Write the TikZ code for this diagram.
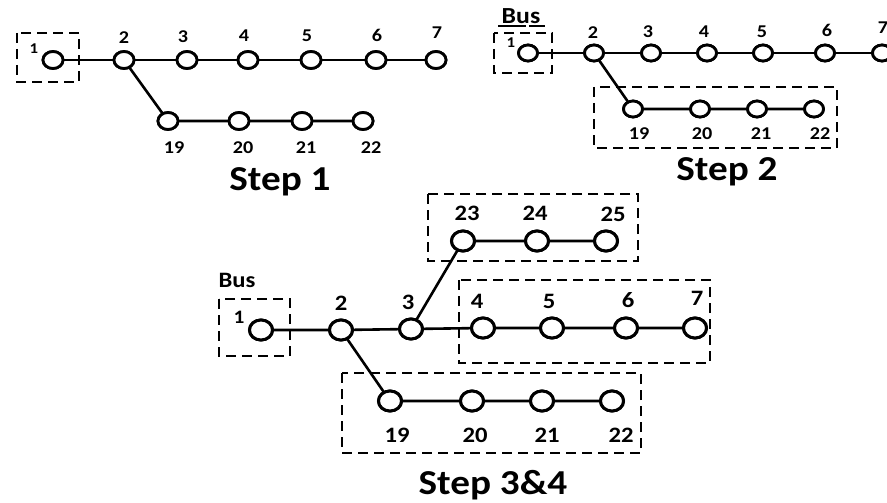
\documentclass[tikz,border=0pt]{standalone}
\usepackage{fontspec}
\setmainfont{Carlito}
\newfontfamily\widefont[FakeStretch=1.12]{Carlito}
\usetikzlibrary{shapes.geometric}
\begin{document}
\begin{tikzpicture}[x=1pt,y=-1pt,
  wire/.style={line width=2.6pt,line cap=round},
  bussm/.style={ellipse,draw,fill=white,line width=2.8pt,minimum width=19pt,minimum height=16pt,inner sep=0pt},
  busbig/.style={ellipse,draw,fill=white,line width=3pt,minimum width=23pt,minimum height=20pt,inner sep=0pt},
  groupbox/.style={draw,line width=2.8pt,dash pattern=on 10pt off 6pt},
  lbl/.style={font=\widefont\bfseries\fontsize{18}{18}\selectfont,inner sep=0pt},
  lblbig/.style={font=\widefont\bfseries\fontsize{22}{22}\selectfont,inner sep=0pt},
  lblone/.style={font=\widefont\bfseries\fontsize{15}{15}\selectfont,inner sep=0pt},
  title/.style={font=\widefont\bfseries\fontsize{35}{35}\selectfont,inner sep=0pt}]
\useasboundingbox (0,0) rectangle (887,503);
\clip (0,0) rectangle (887,503);

% ---------------- Step 1 ----------------
\draw[groupbox] (17,33) rectangle (79,82);
\node[bussm,minimum width=20pt,minimum height=17pt] (a1) at (53,60) {};
\foreach \n/\x in {2/124,3/187,4/248,5/311,6/376,7/436}
  \node[bussm,minimum width=20pt,minimum height=17pt] (a\n) at (\x,60) {};
\foreach \n/\x in {19/168,20/239,21/302,22/363}
  \node[bussm,minimum width=20pt,minimum height=17pt] (a\n) at (\x,121) {};
\draw[wire] (a1) -- (a2) -- (a3) -- (a4) -- (a5) -- (a6) -- (a7);
\draw[wire] (a2) -- (a19) -- (a20) -- (a21) -- (a22);
\foreach \n in {1,2,3,4,5,6,7,19,20,21,22}
  \node[bussm,minimum width=20pt,minimum height=17pt] at (a\n) {};
\node[lblone] (ta1) at (34,49) {1};
\node[lbl] (ta2) at (124,38) {2};
\node[lbl] (ta3) at (183,37) {3};
\node[lbl] (ta4) at (244,36) {4};
\node[lbl] (ta5) at (307,36) {5};
\node[lbl] (ta6) at (377,35) {6};
\node[lbl] (ta7) at (437,33) {7};
\node[lbl] (ta19) at (174,148) {19};
\node[lbl] (ta20) at (243,148) {20};
\node[lbl] (ta21) at (306,148) {21};
\node[lbl] (ta22) at (371,148) {22};
\node[title] (step1) at (280,182) {Step 1};

% ---------------- Step 2 ----------------
\node[lblbig,font=\widefont\bfseries\fontsize{23}{23}\selectfont] (busb) at (521,16) {Bus};
\draw[line width=2.2pt] (498,26) -- (526,26) (529,26) -- (545,26);
\draw[groupbox] (494,33) rectangle (552,73);
\draw[groupbox] (594,87) rectangle (837,148);
\node[bussm] (b1) at (528,53) {};
\foreach \n/\x in {2/594,3/651,4/707,5/763,6/825,7/882}
  \node[bussm] (b\n) at (\x,53) {};
\foreach \n/\x in {19/633,20/700,21/757,22/814}
  \node[bussm] (b\n) at (\x,109) {};
\draw[wire] (b1) -- (b2) -- (b3) -- (b4) -- (b5) -- (b6) -- (b7);
\draw[wire] (b2) -- (b19) -- (b20) -- (b21) -- (b22);
\foreach \n in {1,2,3,4,5,6,7,19,20,21,22}
  \node[bussm] at (b\n) {};
\node[lblone] (tb1) at (511,43) {1};
\node[lbl] (tb2) at (593,33) {2};
\node[lbl] (tb3) at (648,32) {3};
\node[lbl] (tb4) at (704,32) {4};
\node[lbl] (tb5) at (762,32) {5};
\node[lbl] (tb6) at (827,30) {6};
\node[lbl] (tb7) at (883,28) {7};
\node[lbl] (tb19) at (639,134) {19};
\node[lbl] (tb20) at (702,134) {20};
\node[lbl] (tb21) at (761,134) {21};
\node[lbl] (tb22) at (820,134) {22};
\node[title] (step2) at (727,172) {Step 2};

% ---------------- Step 3&4 ----------------
\node[lblbig] (busc) at (237,280) {Bus};
\draw[groupbox] (219,299) rectangle (290,356);
\draw[groupbox] (428,194) rectangle (638,261);
\draw[groupbox] (459,280) rectangle (710,363);
\draw[groupbox] (342,373) rectangle (641,453);
\node[busbig] (c1) at (261,330) {};
\node[busbig] (c2) at (341,330) {};
\node[busbig] (c3) at (411,329) {};
\foreach \n/\x in {4/483,5/552,6/626,7/695}
  \node[busbig] (c\n) at (\x,328) {};
\foreach \n/\x in {23/463,24/537,25/606}
  \node[busbig] (c\n) at (\x,241) {};
\foreach \n/\x in {19/390,20/472,21/542,22/612}
  \node[busbig] (c\n) at (\x,401) {};
\draw[wire] (c1) -- (c2) -- (c3) -- (c4) -- (c5) -- (c6) -- (c7);
\draw[wire] (c3) -- (c23) -- (c24) -- (c25);
\draw[wire] (c2) -- (c19) -- (c20) -- (c21) -- (c22);
\foreach \n in {1,2,3,4,5,6,7,19,20,21,22,23,24,25}
  \node[busbig] at (c\n) {};
\node[lbl,font=\widefont\bfseries\fontsize{19}{19}\selectfont] (tc1) at (239,317) {1};
\node[lblbig] (tc2) at (341,303) {2};
\node[lblbig] (tc3) at (408,302) {3};
\node[lblbig] (tc4) at (477,301) {4};
\node[lblbig] (tc5) at (549,301) {5};
\node[lblbig] (tc6) at (628,300) {6};
\node[lblbig] (tc7) at (697,298) {7};
\node[lblbig] (tc23) at (467,213) {23};
\node[lblbig] (tc24) at (535,213) {24};
\node[lblbig] (tc25) at (613,214) {25};
\node[lblbig] (tc19) at (397,435) {19};
\node[lblbig] (tc20) at (475,435) {20};
\node[lblbig] (tc21) at (547,435) {21};
\node[lblbig] (tc22) at (621,435) {22};
\node[title] (step34) at (493,485) {Step 3\&4};
\end{tikzpicture}
\end{document}
